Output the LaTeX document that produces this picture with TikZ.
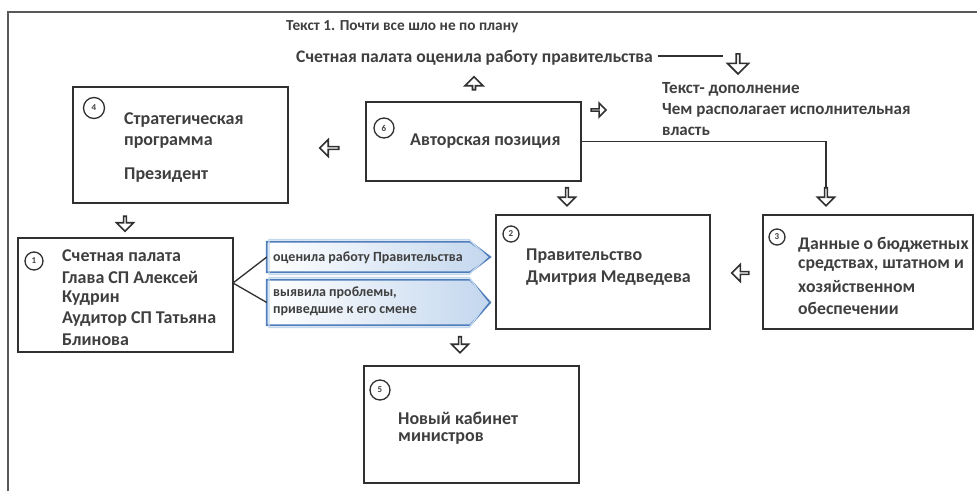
\documentclass[tikz,border=0pt]{standalone}
\usepackage{fontspec}
\setmainfont{Carlito}
\usetikzlibrary{shapes.arrows,calc,backgrounds}
\definecolor{txt}{HTML}{3F3F3F}
\definecolor{frm}{HTML}{303030}
\definecolor{bblue}{HTML}{4F7EBB}
\definecolor{lblue}{HTML}{C3D7EE}
\begin{document}
\begin{tikzpicture}[x=1pt,y=-1pt,
  box/.style={draw=frm,line width=1.6pt,inner sep=0pt},
  num/.style={circle,draw=frm,line width=1.3pt,minimum size=#1,inner sep=0pt,
    font=\bfseries\fontsize{9}{9}\selectfont,text=txt},
  lbl/.style={anchor=west,inner sep=0pt,text=txt,font=\bfseries\fontsize{18}{18}\selectfont},
  ttl/.style={anchor=west,inner sep=0pt,text=txt,font=\bfseries\fontsize{17}{17}\selectfont},
  sml/.style={anchor=west,inner sep=0pt,text=txt,font=\bfseries\fontsize{14}{14}\selectfont},
  harrow/.style={single arrow,draw=frm,line width=1.6pt,fill=white,
    minimum height=17pt,minimum width=17pt,single arrow head extend=4pt,inner sep=0pt},
  bnode/.style={inner sep=0pt,minimum width=203pt},
  bshape/.style={draw=bblue,line width=1.8pt,left color=white,middle color=white,right color=lblue},
  binner/.style={draw=lblue,line width=1.4pt},
  conn/.style={draw=frm,line width=1.3pt}
]
\useasboundingbox (0,0) rectangle (977,491);
% frame
\draw[draw=frm!80,line width=2pt] (8,491) -- (8,12) -- (977,12);

% boxes
\node[box,minimum width=215pt,minimum height=116pt] (b4) at (180.5,145) {};
\node[box,minimum width=215pt,minimum height=79pt] (b6) at (473.5,141.5) {};
\node[box,minimum width=215pt,minimum height=114pt] (b1) at (125.5,295) {};
\node[box,minimum width=214pt,minimum height=114pt] (b2) at (603,272) {};
\node[box,minimum width=210pt,minimum height=114pt] (b3) at (868,272) {};
\node[box,minimum width=215pt,minimum height=117pt] (b5) at (471.5,424.5) {};

% numbers
\node[num=21pt] (n4) at (94,108) {4};
\node[num=20pt] (n6) at (384,128) {6};
\node[num=18pt] (n1) at (34,261) {1};
\node[num=16pt] (n2) at (511,234) {2};
\node[num=16pt] (n3) at (777,237) {3};
\node[num=20pt] (n5) at (380,390) {5};

% box texts
\node[lbl] (t4a) at (124,120) {Стратегическая};
\node[lbl] (t4b) at (124,142) {программа};
\node[lbl] (t4c) at (124,175) {Президент};
\node[lbl] (t6) at (410,141) {Авторская позиция};
\node[lbl] (t1a) at (62,256) {Счетная палата};
\node[lbl] (t1b) at (62,277) {Глава СП Алексей};
\node[lbl] (t1c) at (62,298) {Кудрин};
\node[lbl] (t1d) at (62,319) {Аудитор СП Татьяна};
\node[lbl] (t1e) at (62,340) {Блинова};
\node[lbl] (t2a) at (526,256) {Правительство};
\node[lbl] (t2b) at (526,278) {Дмитрия Медведева};
\node[lbl,font=\bfseries\fontsize{17.7}{17.7}\selectfont] (t3a) at (798,245) {Данные о бюджетных};
\node[lbl,font=\bfseries\fontsize{17.7}{17.7}\selectfont] (t3b) at (798,266) {средствах, штатном и};
\node[lbl,font=\bfseries\fontsize{17.7}{17.7}\selectfont] (t3c) at (798,287) {хозяйственном};
\node[lbl,font=\bfseries\fontsize{17.7}{17.7}\selectfont] (t3d) at (798,308) {обеспечении};
\node[lbl] (t5a) at (398,418) {Новый кабинет};
\node[lbl] (t5b) at (398,438) {министров};

% titles
\node[ttl,font=\bfseries\fontsize{15.3}{15.3}\selectfont] (h1) at (286,27) {Текст 1. Почти все шло не по плану};
\node[ttl,font=\bfseries\fontsize{17.6}{17.6}\selectfont] (h2) at (296,58) {Счетная палата оценила работу правительства};
\node[ttl] (h3) at (662,89) {Текст- дополнение};
\node[ttl] (h4) at (662,110) {Чем располагает исполнительная};
\node[ttl] (h5) at (662,131) {власть};

% blue arrows
\node[bnode,minimum height=30pt] (ba1) at (368.5,257) {};
\node[bnode,minimum height=45pt] (ba2) at (368.5,302.5) {};
\begin{scope}[on background layer]
\fill[white] (0,0) rectangle (977,491);
\path[bshape] (ba1.north west) -- (ba1.north east) -- ([xshift=20pt]ba1.east) -- (ba1.south east) -- (ba1.south west) -- cycle;
\path[binner] ([shift={(2.2pt,2.2pt)}]ba1.north west) -- ([shift={(-1pt,2.2pt)}]ba1.north east) -- ([xshift=17pt]ba1.east) -- ([shift={(-1pt,-2.2pt)}]ba1.south east) -- ([shift={(2.2pt,-2.2pt)}]ba1.south west) -- cycle;
\path[bshape] (ba2.north west) -- (ba2.north east) -- ([xshift=20pt]ba2.east) -- (ba2.south east) -- (ba2.south west) -- cycle;
\path[binner] ([shift={(2.2pt,2.2pt)}]ba2.north west) -- ([shift={(-1pt,2.2pt)}]ba2.north east) -- ([xshift=17pt]ba2.east) -- ([shift={(-1pt,-2.2pt)}]ba2.south east) -- ([shift={(2.2pt,-2.2pt)}]ba2.south west) -- cycle;
\end{scope}
\node[sml] (s1) at (273,258) {оценила работу Правительства};
\node[sml] (s2) at (273,293) {выявила проблемы,};
\node[sml] (s3) at (273,311) {приведшие к его смене};

% hollow arrows
\node[harrow,rotate=90,minimum height=13pt,minimum width=18pt] (a6up) at (474,84) {};
\node[harrow,minimum height=15pt,minimum width=14pt] (a6r) at (598,110) {};
\node[harrow,rotate=180,minimum height=19pt] (a64) at (330,148) {};
\node[harrow,rotate=-90,minimum height=15pt] (a41) at (125,223) {};
\node[harrow,rotate=-90,minimum height=18pt] (a62) at (567,196) {};
\node[harrow,rotate=-90,minimum height=18pt] (a63) at (826,196) {};
\node[harrow,rotate=180] (a32) at (741,273) {};
\node[harrow,rotate=-90,minimum height=16pt] (a15) at (460,344) {};
\node[harrow,rotate=-90,minimum height=20pt,minimum width=21pt] (a0) at (738,63) {};

% connectors
\coordinate (j) at (233,283);
\draw[conn] (ba1.west) -- (j) -- (ba2.west);
\draw[conn] (b6.east) -| (a63.tail);
\coordinate (l0) at (723,56);
\draw[conn] ([xshift=5pt]h2.east |- l0) -- (l0);
\end{tikzpicture}
\end{document}
